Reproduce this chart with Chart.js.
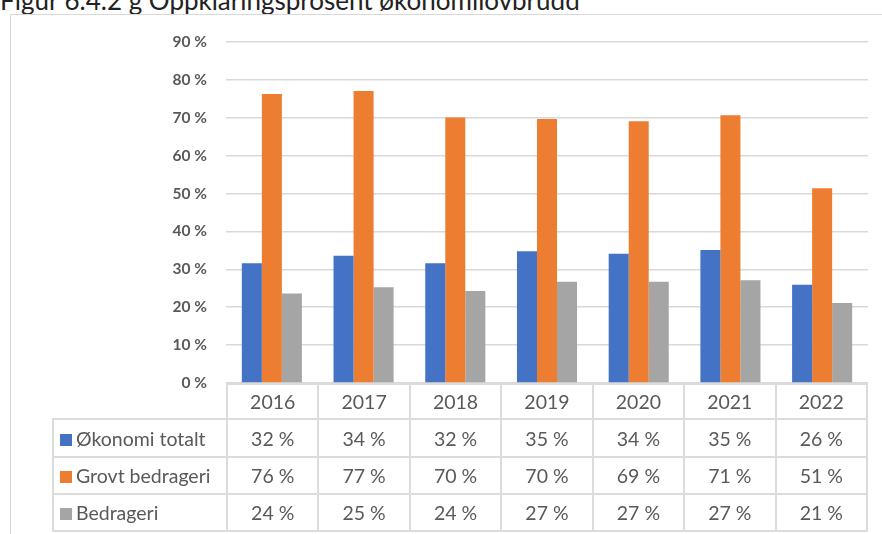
<!DOCTYPE html>
<html>
<head>
<meta charset="utf-8">
<script src="https://cdn.jsdelivr.net/npm/chart.js@4.4.1/dist/chart.umd.min.js"></script>
<style>
  html, body { margin: 0; padding: 0; background: #fff; }
  #wrap { position: relative; width: 882px; height: 534px; overflow: hidden; font-family: Lato, "Open Sans", sans-serif; }
  #title { position: absolute; left: 0; top: -13px; font-size: 26px; line-height: 26px; color: #222; white-space: nowrap; }
  #frame { position: absolute; left: 10px; top: 14px; width: 900px; height: 600px; border-left: 1px solid #d9d9d9; border-top: 1px solid #d9d9d9; }
  #myChart { position: absolute; left: 0; top: 0; }
  #tbl { position: absolute; left: 52px; top: 383px; border-collapse: collapse; table-layout: fixed; color: #595959; font-size: 19.5px; }
  #tbl td { border: 2px solid #dcdcdc; text-align: center; padding: 0; }
  #tbl td.lab { text-align: left; padding-left: 6px; white-space: nowrap; }
  #tbl td.empty { border: none; }
  .sw { display: inline-block; width: 12px; height: 12px; margin-right: 4px; vertical-align: 0px; }
</style>
</head>
<body>
<div id="wrap">
  <div id="title">Figur 6.4.2 g Oppklaringsprosent økonomilovbrudd</div>
  <div id="frame"></div>
  <canvas id="myChart" width="882" height="534"></canvas>
  <table id="tbl"></table>
</div>
<script>
var years = ["2016", "2017", "2018", "2019", "2020", "2021", "2022"];
var okonomiTotalt = [31.6, 33.6, 31.6, 34.8, 34.1, 35.1, 25.9];
var grovtBedrageri = [76.3, 77.1, 70.1, 69.7, 69.1, 70.7, 51.4];
var bedrageri = [23.6, 25.3, 24.3, 26.7, 26.7, 27.1, 21.1];
var yTicks = [0, 10, 20, 30, 40, 50, 60, 70, 80, 90];

var dts = [
    { label: "Økonomi totalt", data: okonomiTotalt, backgroundColor: "#4472C4" },
    { label: "Grovt bedrageri", data: grovtBedrageri, backgroundColor: "#ED7D31" },
    { label: "Bedrageri", data: bedrageri, backgroundColor: "#A5A5A5" }
];
dts.forEach(function (d) {
    d.categoryPercentage = 0.655;
    d.barPercentage = 1.0;
    d.borderWidth = 0;
});

var ctx = document.getElementById('myChart').getContext('2d');
var mychart = new Chart(ctx, {
    type: 'bar',
    data: { labels: years, datasets: dts },
    options: {
        responsive: false,
        devicePixelRatio: 1,
        animation: false,
        layout: { padding: { left: 0, right: 14, top: 42, bottom: 151 } },
        plugins: { legend: { display: false }, tooltip: { enabled: false } },
        scales: {
            x: { display: false },
            y: {
                min: yTicks[0],
                max: yTicks[yTicks.length - 1],
                afterFit: function (scale) { scale.width = 226; },
                afterBuildTicks: function (scale) {
                    scale.ticks = yTicks.map(function (v) { return { value: v }; });
                },
                border: { display: false },
                grid: { color: "#d9d9d9", lineWidth: 1.5, drawTicks: false },
                ticks: {
                    padding: 19,
                    color: "#595959",
                    font: { family: "Lato, 'Open Sans', sans-serif", size: 15.5, weight: "bold" },
                    callback: function (v) { return v + " %"; }
                }
            }
        }
    }
});

// data table under the chart, columns follow the x scale
var area = mychart.chartArea;
var tbl = document.getElementById('tbl');
tbl.style.width = (area.right - 52) + 'px';
var html = '<colgroup><col style="width:' + (area.left - 52) + 'px">';
years.forEach(function () { html += '<col>'; });
html += '</colgroup><tr style="height:35px"><td class="empty"></td>';
years.forEach(function (y) { html += '<td>' + y + '</td>'; });
html += '</tr>';
var rowH = [38, 37, 37];
dts.forEach(function (d, i) {
    html += '<tr style="height:' + rowH[i] + 'px"><td class="lab"><span class="sw" style="background:' + d.backgroundColor + '"></span>' + d.label + '</td>';
    d.data.forEach(function (v) { html += '<td>' + Math.round(v) + ' %</td>'; });
    html += '</tr>';
});
tbl.innerHTML = html;
</script>
</body>
</html>
